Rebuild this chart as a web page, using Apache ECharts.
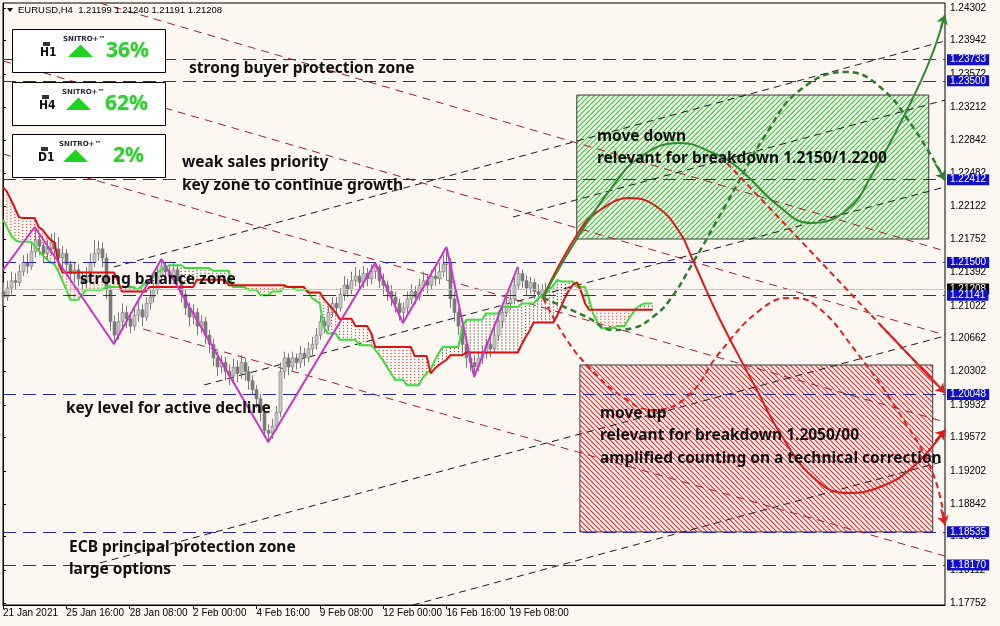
<!DOCTYPE html>
<html><head><meta charset="utf-8">
<script src="https://cdn.jsdelivr.net/npm/echarts@6/dist/echarts.min.js"></script>
<style>html,body{margin:0;padding:0;background:#fdf7f2}#c{width:1000px;height:626px}</style>
</head><body><div id="c"></div>
<script>
// ---------------- data ----------------
const xTickIdx = [0,16,32,48,64,80,96,112,128];
const xTickLabels = ['21 Jan 2021','25 Jan 16:00','28 Jan 08:00','2 Feb 00:00','4 Feb 16:00','9 Feb 08:00','12 Feb 00:00','16 Feb 16:00','19 Feb 08:00'];
const yTicks = [1.24302,1.23942,1.23572,1.23212,1.22842,1.22482,1.22122,1.21752,1.21392,1.21022,1.20662,1.20302,1.19932,1.19572,1.19202,1.18842,1.18482,1.18112,1.17752];
const levels = [1.23733,1.23500,1.22412,1.21500,1.21141,1.20048,1.18535,1.18170];
const lastPrice = 1.21208;
const header = 'EURUSD,H4  1.21199 1.21240 1.21191 1.21208';
// candles: [open, close, low, high]
const candles = [
[1.2118,1.2112,1.2102,1.2128],[1.2112,1.2122,1.2108,1.2130],[1.2122,1.2130,1.2115,1.2140],[1.2130,1.2128,1.2120,1.2138],
[1.2128,1.2140,1.2124,1.2148],[1.2140,1.2150,1.2135,1.2158],[1.2150,1.2146,1.2138,1.2160],[1.2146,1.2162,1.2142,1.2172],
[1.2162,1.2175,1.2156,1.2189],[1.2175,1.2168,1.2158,1.2180],[1.2168,1.2160,1.2150,1.2172],[1.2160,1.2165,1.2152,1.2175],
[1.2165,1.2172,1.2158,1.2182],[1.2172,1.2165,1.2150,1.2183],[1.2165,1.2155,1.2146,1.2178],[1.2155,1.2160,1.2145,1.2168],
[1.2160,1.2148,1.2140,1.2165],[1.2148,1.2138,1.2130,1.2152],[1.2138,1.2142,1.2128,1.2150],[1.2142,1.2132,1.2124,1.2148],
[1.2132,1.2128,1.2120,1.2140],[1.2128,1.2135,1.2122,1.2145],[1.2135,1.2150,1.2130,1.2160],[1.2150,1.2160,1.2145,1.2175],
[1.2160,1.2165,1.2152,1.2174],[1.2165,1.2155,1.2145,1.2172],[1.2155,1.2120,1.2110,1.2160],[1.2120,1.2085,1.2075,1.2125],
[1.2085,1.2070,1.2060,1.2092],[1.2070,1.2085,1.2065,1.2095],[1.2085,1.2095,1.2078,1.2105],[1.2095,1.2088,1.2078,1.2102],
[1.2088,1.2080,1.2072,1.2095],[1.2080,1.2092,1.2075,1.2100],[1.2092,1.2098,1.2085,1.2108],[1.2098,1.2090,1.2080,1.2104],
[1.2090,1.2105,1.2086,1.2112],[1.2105,1.2112,1.2098,1.2120],[1.2112,1.2120,1.2106,1.2128],[1.2120,1.2135,1.2115,1.2145],
[1.2135,1.2146,1.2128,1.2154],[1.2146,1.2140,1.2132,1.2150],[1.2140,1.2135,1.2126,1.2146],[1.2135,1.2142,1.2128,1.2150],
[1.2142,1.2130,1.2122,1.2146],[1.2130,1.2115,1.2106,1.2135],[1.2115,1.2100,1.2092,1.2120],[1.2100,1.2090,1.2080,1.2106],
[1.2090,1.2095,1.2082,1.2104],[1.2095,1.2080,1.2070,1.2100],[1.2080,1.2085,1.2072,1.2092],[1.2085,1.2070,1.2060,1.2090],
[1.2070,1.2060,1.2050,1.2076],[1.2060,1.2045,1.2036,1.2066],[1.2045,1.2035,1.2025,1.2052],[1.2035,1.2040,1.2028,1.2048],
[1.2040,1.2030,1.2020,1.2046],[1.2030,1.2025,1.2015,1.2038],[1.2025,1.2035,1.2018,1.2044],[1.2035,1.2028,1.2018,1.2042],
[1.2028,1.2040,1.2022,1.2048],[1.2040,1.2030,1.2020,1.2045],[1.2030,1.2020,1.2010,1.2036],[1.2020,1.2010,1.2005,1.2026],
[1.2010,1.2000,1.1990,1.2015],[1.2000,1.1985,1.1975,1.2005],[1.1985,1.1965,1.1958,1.1990],[1.1965,1.1962,1.1952,1.1972],
[1.1962,1.1970,1.1956,1.1978],[1.1970,1.1985,1.1965,1.1992],[1.1985,1.2030,1.1980,1.2040],[1.2030,1.2045,1.2022,1.2052],
[1.2045,1.2035,1.2026,1.2050],[1.2035,1.2045,1.2030,1.2052],[1.2045,1.2040,1.2032,1.2050],[1.2040,1.2050,1.2034,1.2058],
[1.2050,1.2045,1.2036,1.2056],[1.2045,1.2055,1.2040,1.2062],[1.2055,1.2060,1.2048,1.2068],[1.2060,1.2070,1.2054,1.2078],
[1.2070,1.2085,1.2065,1.2092],[1.2085,1.2080,1.2072,1.2090],[1.2080,1.2095,1.2075,1.2102],[1.2095,1.2105,1.2090,1.2112],
[1.2105,1.2100,1.2092,1.2112],[1.2100,1.2115,1.2096,1.2122],[1.2115,1.2125,1.2108,1.2135],[1.2125,1.2120,1.2112,1.2132],
[1.2120,1.2130,1.2115,1.2140],[1.2130,1.2135,1.2124,1.2145],[1.2135,1.2128,1.2120,1.2142],[1.2128,1.2138,1.2122,1.2146],
[1.2138,1.2132,1.2124,1.2144],[1.2132,1.2140,1.2126,1.2148],[1.2140,1.2145,1.2132,1.2150],[1.2145,1.2130,1.2122,1.2148],
[1.2130,1.2125,1.2115,1.2138],[1.2125,1.2118,1.2108,1.2130],[1.2118,1.2112,1.2102,1.2125],[1.2112,1.2105,1.2095,1.2118],
[1.2105,1.2095,1.2086,1.2110],[1.2095,1.2100,1.2083,1.2106],[1.2100,1.2110,1.2094,1.2118],[1.2110,1.2118,1.2104,1.2126],
[1.2118,1.2112,1.2104,1.2124],[1.2112,1.2125,1.2108,1.2132],[1.2125,1.2130,1.2118,1.2140],[1.2130,1.2125,1.2116,1.2136],
[1.2125,1.2135,1.2120,1.2142],[1.2135,1.2132,1.2124,1.2144],[1.2132,1.2140,1.2126,1.2150],[1.2140,1.2148,1.2134,1.2158],
[1.2148,1.2150,1.2130,1.2167],[1.2150,1.2110,1.2100,1.2155],[1.2110,1.2095,1.2085,1.2118],[1.2095,1.2080,1.2070,1.2100],
[1.2080,1.2060,1.2050,1.2085],[1.2060,1.2045,1.2034,1.2066],[1.2045,1.2040,1.2030,1.2052],[1.2040,1.2035,1.2024,1.2048],
[1.2035,1.2045,1.2030,1.2052],[1.2045,1.2050,1.2038,1.2058],[1.2050,1.2060,1.2044,1.2066],[1.2060,1.2055,1.2046,1.2068],
[1.2055,1.2070,1.2050,1.2078],[1.2070,1.2085,1.2064,1.2092],[1.2085,1.2095,1.2078,1.2102],[1.2095,1.2105,1.2090,1.2114],
[1.2105,1.2110,1.2098,1.2120],[1.2110,1.2125,1.2104,1.2134],[1.2125,1.2138,1.2120,1.2145],[1.2138,1.2130,1.2122,1.2142],
[1.2130,1.2122,1.2114,1.2136],[1.2122,1.2128,1.2116,1.2134],[1.2128,1.2118,1.2110,1.2132],[1.2118,1.2115,1.2108,1.2126],
[1.2115,1.2120,1.2110,1.2126],[1.2120,1.2120,1.2112,1.2128],[1.21199,1.21208,1.21191,1.21240]
];
// Ichimoku cloud borders (shifted 26 bars ahead), one value per bar
const spanRed = [
1.2233,1.2228,1.2219,1.2210,1.2200,1.2199,1.2199,1.2199,1.2199,1.2189,1.2186,1.2180,1.2175,1.2172,1.2150,
1.2139,1.2139,1.2139,1.2139,1.2139,1.2139,1.2139,1.2139,1.2139,1.2139,1.2139,1.2139,1.2139,1.2139,
1.2130,1.2118,1.2118,1.2118,1.2118,1.2118,1.2118,1.2118,
1.2123,1.2123,1.2123,1.2123,1.2123,1.2123,1.2123,1.2123,1.2123,1.2123,1.2123,1.2123,
1.2131,1.2131,1.2131,1.2131,1.2131,1.2131,1.2131,1.2131,
1.2125,1.2125,1.2125,1.2125,1.2125,1.2125,1.2125,1.2125,1.2125,1.2125,1.2125,1.2125,1.2125,1.2125,1.2125,
1.2123,1.2123,1.2123,1.2123,1.2123,1.2117,1.2117,1.2117,1.2117,
1.2110,1.2105,1.2100,1.2095,1.2088,1.2088,1.2088,1.2088,1.2080,1.2080,1.2080,1.2080,1.2072,
1.2057,1.2057,1.2057,1.2057,1.2057,1.2057,1.2057,1.2057,1.2057,1.2057,
1.2047,1.2047,1.2047,1.2047,1.2028,1.2033,1.2037,1.2040,1.2043,1.2048,1.2048,1.2048,1.2048,
1.2051,1.2051,1.2051,1.2051,1.2051,1.2051,1.2051,1.2051,1.2051,1.2051,1.2051,1.2051,1.2051,1.2051,
1.2060,1.2068,1.2075,1.2084,1.2084,1.2084,1.2084,1.2084,1.2084,
1.2092,1.2102,1.2112,1.2120,1.2126,1.2128,1.2118,1.2105,
1.2098,1.2098,1.2098,1.2098,1.2098,1.2098,1.2098,1.2098,1.2098,1.2098,1.2098,1.2098,1.2098,1.2098,1.2098,1.2098,1.2098
];
const spanGreen = [
1.2197,1.2189,1.2180,1.2175,1.2173,1.2173,1.2173,1.2173,1.2168,1.2163,1.2158,1.2154,1.2150,1.2148,1.2140,1.2130,1.2120,
1.2109,1.2109,1.2109,1.2115,1.2120,1.2120,1.2120,1.2120,1.2120,
1.2123,1.2123,1.2123,1.2123,1.2123,1.2123,1.2123,1.2123,
1.2120,1.2124,1.2128,1.2131,1.2135,1.2139,1.2142,1.2145,1.2147,1.2147,1.2147,1.2147,
1.2144,1.2144,1.2144,1.2144,1.2144,1.2144,1.2144,1.2141,1.2141,1.2141,1.2141,1.2141,
1.2123,1.2123,1.2123,1.2123,1.2120,1.2120,1.2120,1.2114,1.2114,1.2114,1.2118,1.2118,1.2118,
1.2123,1.2123,1.2123,1.2120,1.2120,1.2120,1.2120,1.2111,1.2108,1.2105,1.2079,1.2072,1.2072,1.2072,
1.2065,1.2065,1.2065,1.2065,1.2065,1.2059,1.2059,1.2059,1.2059,1.2054,1.2048,1.2042,1.2035,1.2028,
1.2021,1.2021,1.2021,1.2015,1.2015,1.2015,1.2015,1.2023,1.2028,1.2032,1.2042,1.2050,
1.2057,1.2057,1.2057,1.2057,1.2057,1.2079,1.2087,1.2087,1.2087,1.2087,1.2087,
1.2094,1.2094,1.2094,1.2094,1.2101,1.2101,1.2101,1.2101,1.2101,1.2105,1.2105,1.2105,1.2105,
1.2110,1.2113,1.2116,1.2120,1.2125,1.2131,1.2129,1.2129,1.2129,1.2129,1.2123,1.2123,1.2123,
1.2110,1.2094,1.2086,1.2078,1.2078,1.2078,1.2078,1.2080,1.2080,1.2080,1.2088,1.2094,1.2100,1.2103,1.2105,1.2105,1.2105
];
// ZigZag vertices [bar, price]
const zigzag = [[0,1.21418],[8,1.21891],[28,1.20603],[40,1.21539],[67,1.19524],[94,1.21495],[101,1.20834],[112,1.21671],[119,1.20240],[130,1.21451]];
// descending (red) and ascending (black) channel lines [[bar,price],[bar,price]]
const redChannel = [
[[24.5,1.24357],[237.9,1.21627]],
[[0,1.23719],[237.9,1.20702]],
[[0,1.22695],[237.9,1.19745]],
[[35.4,1.20768],[237.9,1.18270]]
];
const blackChannel = [
[[28.0,1.21451],[237.9,1.23939]],
[[128.8,1.22001],[237.9,1.23289]],
[[50.8,1.20152],[237.9,1.22332]],
[[24.5,1.18193],[237.9,1.20691]],
[[103.5,1.17730],[237.9,1.19315]]
];
// scenario zones [bar1, price1, bar2, price2]
const greenZone = [144.9,1.23344,233.8,1.21759];
const redZone = [145.7,1.20372,234.8,1.18534];
// projected paths [bar, price]
const pathGreenSolid = [[136.4,1.21121],[144.9,1.21759],[153.3,1.22299],[160.9,1.22662],[171.0,1.22816],[179.3,1.22706],[185.4,1.22552],[196.2,1.22111],[203.8,1.21935],[213.1,1.22078],[219.7,1.22486],[228.3,1.23179],[234.1,1.23730],[237.9,1.24225]];
const pathRedSolid = [[136.4,1.21121],[145.7,1.21858],[150.8,1.22078],[158.3,1.22210],[165.2,1.22111],[171.0,1.21825],[174.2,1.21528],[181.1,1.20868],[190.4,1.20097],[196.2,1.19624],[204.5,1.19139],[213.1,1.18963],[221.5,1.19029],[229.8,1.19249],[237.9,1.19657]];
const pathGreenDash = [[136.4,1.21110],[147.5,1.20900],[154.0,1.20757],[159.1,1.20779],[164.1,1.20900],[168.4,1.21088],[174.2,1.21495],[182.8,1.22155],[192.9,1.22926],[201.3,1.23399],[213.1,1.23597],[221.5,1.23432],[229.8,1.22992],[237.9,1.22409]];
const pathRedDash = [[136.4,1.21110],[142.4,1.20647],[148.2,1.20339],[155.8,1.20042],[164.1,1.19877],[172.7,1.20020],[181.1,1.20515],[191.2,1.20978],[198.7,1.21110],[205.1,1.21033],[215.7,1.20504],[225.8,1.19877],[234.8,1.19183],[237.9,1.18611]];
const pathRedStraight = [[182.8,1.22596],[237.9,1.20064]];
const notes = [
 ['strong buyer protection zone',189,69],['weak sales priority',182,163],['key zone to continue growth',182,186],
 ['strong balance zone',80,280],['key level for active decline',66,409],['ECB principal protection zone',69,548],
 ['large options',69,570],['move down',597,137],['relevant for breakdown 1.2150/1.2200',597,159],
 ['move up',600,414],['relevant for breakdown 1.2050/00',600,436],['amplified counting on a technical correction',600,459]
];
const meters = [['H1','36%'],['H4','62%'],['D1','2%']];

// ---------------- helpers ----------------
function hatch(bg, fg, dir){
  const s=5, c=document.createElement('canvas'); c.width=s; c.height=s;
  const g=c.getContext('2d'); g.fillStyle=bg; g.fillRect(0,0,s,s);
  g.strokeStyle=fg; g.lineWidth=1.1; g.beginPath();
  if(dir>0){ for(let k=-1;k<=1;k++){ g.moveTo(k*s, s); g.lineTo(k*s+s, 0);} }
  else { for(let k=-1;k<=1;k++){ g.moveTo(k*s, 0); g.lineTo(k*s+s, s);} }
  g.stroke(); return c;
}
const greenPat = hatch('#eaf6e4','#4cb84c',1);
const redPat = hatch('#fbeeea','#e02a2a',-1);

const chart = echarts.init(document.getElementById('c'), null, {renderer:'canvas'});
const FONT = '"Noto Sans", "DejaVu Sans", sans-serif';

function zoneSeries(z, pat){
  return {type:'custom', z:1, silent:true, data:[z], encode:{x:[0,2],y:[1,3]},
    renderItem(params, api){
      const a=api.coord([api.value(0),api.value(1)]), b=api.coord([api.value(2),api.value(3)]);
      return {type:'rect', shape:{x:a[0],y:a[1],width:b[0]-a[0],height:b[1]-a[1]},
        style:{fill:{image:pat, repeat:'repeat'}, stroke:'#3a3a3a', lineWidth:1}};
    }};
}
function pathSeries(pts, color, width, dash){
  return {type:'line', data:pts, smooth:0.45, showSymbol:false, symbol:'none', z:6, silent:true,
    lineStyle:{color, width, type: dash || 'solid'}};
}
function arrowSeries(pts, color, width){
  const n=pts.length;
  return {type:'lines', coordinateSystem:'cartesian2d', z:7, silent:true, clip:false,
    symbol:['none','arrow'], symbolSize:9,
    data:[{coords:[pts[n-2].map((v,k)=>k===0? v+(pts[n-1][0]-v)*0.7 : v+(pts[n-1][1]-v)*0.7), pts[n-1]]}],
    lineStyle:{color, width, opacity:1}};
}

const graphics = [];
// header
graphics.push({type:'polygon', shape:{points:[[7,8],[13,8],[10,12]]}, style:{fill:'#000'}, z:100});
graphics.push({type:'text', x:18, y:10, z:100, style:{text:header, font:'9.5px "Liberation Sans"', fill:'#000', verticalAlign:'middle'}});
// meters
const boxTops=[29,82,134], triX=[68,66,63], snX=[63,62,59], pctX=[106,105,113], labX=[40,39,38];
meters.forEach((m,k)=>{
  const t=boxTops[k];
  graphics.push({type:'rect', z:100, shape:{x:12.5,y:t+0.5,width:153,height:43}, style:{fill:'#fff',stroke:'#000',lineWidth:1}});
  graphics.push({type:'rect', z:101, shape:{x:labX[k]+3,y:t+13,width:7,height:4}, style:{fill:'#333'}});
  graphics.push({type:'text', z:101, x:labX[k], y:t+23.5, style:{text:m[0], font:'bold 12px "DejaVu Sans Condensed","DejaVu Sans"', fill:'#111', verticalAlign:'middle'}});
  graphics.push({type:'text', z:101, x:snX[k], y:t+10.5, style:{text:'SNITRO+™', font:'bold 7px "DejaVu Sans"', fill:'#2a2a3a', verticalAlign:'middle'}});
  const bx=triX[k];
  graphics.push({type:'polygon', z:101, shape:{points:[[bx,t+28],[bx+25,t+28],[bx+12.5,t+15.5]]}, style:{fill:'#1ed41e'}});
  graphics.push({type:'text', z:101, x:pctX[k], y:t+22.5, style:{text:m[1], font:'bold 21px "Noto Sans"', fill:'#33cc33', verticalAlign:'middle', textShadowColor:'rgba(80,230,80,0.5)', textShadowBlur:2}});
});
notes.forEach(n=>{
  graphics.push({type:'text', z:100, x:n[1], y:n[2], style:{text:n[0], font:'bold 15.5px '+FONT, fill:'#111', verticalAlign:'middle'}});
});

const option = {
  backgroundColor:'#fdf7f2',
  animation:false,
  grid:{left:3, right:55, top:3, bottom:21, show:true, borderColor:'#000', borderWidth:1, backgroundColor:'transparent'},
  xAxis:{type:'value', min:0, max:237.9, splitLine:{show:false},
    axisLine:{show:true, lineStyle:{color:'#000'}},
    axisTick:{show:true, customValues:xTickIdx, length:4, lineStyle:{color:'#000'}},
    axisLabel:{customValues:xTickIdx, formatter:v=>xTickLabels[xTickIdx.indexOf(v)], align:'left', fontSize:10, color:'#000', fontFamily:'Liberation Sans', margin:3}},
  yAxis:{type:'value', position:'right', min:1.17730, max:1.24357, splitLine:{show:false},
    axisLine:{show:true, lineStyle:{color:'#000', width:1}},
    axisTick:{show:true, customValues:yTicks, length:3, lineStyle:{color:'#000'}},
    axisLabel:{customValues:yTicks, formatter:v=>v.toFixed(5), fontSize:10, color:'#000', fontFamily:'Liberation Sans', margin:5}},
  graphic:graphics,
  series:[
    zoneSeries(greenZone, greenPat),
    zoneSeries(redZone, redPat),
    {type:'custom', z:2, silent:true, data:spanRed.map((r,i)=>[i,r,spanGreen[i]]), encode:{x:0,y:[1,2]},
      renderItem(params, api){
        const i=api.value(0), a=api.value(1), b=api.value(2);
        const p1=api.coord([i,a]), p2=api.coord([i,b]);
        return {type:'line', shape:{x1:p1[0],y1:p1[1],x2:p2[0],y2:p2[1]}, style:{stroke: a>b?'#d01818':'#202820', lineWidth:1, lineDash:[1,2]}};
      }},
    {type:'lines', coordinateSystem:'cartesian2d', z:2, silent:true, data:redChannel.map(c=>({coords:c})),
      lineStyle:{color:'#a0202e', width:1, type:[8,6], opacity:1}},
    {type:'lines', coordinateSystem:'cartesian2d', z:2, silent:true, data:blackChannel.map(c=>({coords:c})),
      lineStyle:{color:'#1a1a1a', width:1, type:[7,5], opacity:1}},
    {type:'line', data:[], z:2, silent:true,
      markLine:{silent:true, symbol:'none', animation:false, precision:5,
        lineStyle:{color:'#c4c4c4', width:1, type:'solid'},
        label:{position:'end', distance:2, formatter:p=>Number(p.value).toFixed(5), backgroundColor:'#000', color:'#fff', fontSize:10, fontFamily:'Liberation Sans', padding:[1,3,0,3]},
        data:[{yAxis:lastPrice}]}},
    {type:'custom', z:3, silent:true, data:candles.map((d,i)=>[i,d[0],d[1],d[2],d[3]]), encode:{x:0,y:[1,2,3,4]},
      renderItem(params, api){
        const i=api.value(0), o=api.value(1), c=api.value(2), l=api.value(3), h=api.value(4);
        const pO=api.coord([i,o]), pC=api.coord([i,c]), pL=api.coord([i,l]), pH=api.coord([i,h]);
        const x=Math.round(pO[0])+0.5, top=Math.min(pO[1],pC[1]), bh=Math.max(1,Math.abs(pO[1]-pC[1]));
        return {type:'group', children:[
          {type:'line', shape:{x1:x,y1:pH[1],x2:x,y2:pL[1]}, style:{stroke:'#7a7a7a', lineWidth:1}},
          {type:'rect', shape:{x:x-1.5,y:top,width:3,height:bh}, style:{fill: c>=o?'#c8c8c8':'#7a7a7a', stroke:'#7a7a7a', lineWidth:0.6}}
        ]};
      }},
    {type:'line', data:[], z:4, silent:true,
      markLine:{silent:true, symbol:'none', animation:false, precision:5,
        lineStyle:{color:'#2626b0', width:1, type:[13,7]},
        label:{position:'end', distance:2, formatter:p=>Number(p.value).toFixed(5), backgroundColor:'#1010c8', color:'#fff', fontSize:10, fontFamily:'Liberation Sans', padding:[1,3,0,3]},
        data:levels.map(v=>({yAxis:v}))}},
    {type:'line', z:4, silent:true, showSymbol:false, symbol:'none', data:spanGreen.map((v,i)=>[i,v]), lineStyle:{color:'#3ade3a', width:2}},
    {type:'line', z:4, silent:true, showSymbol:false, symbol:'none', data:spanRed.map((v,i)=>[i,v]), lineStyle:{color:'#e01010', width:2}},
    {type:'line', z:5, silent:true, showSymbol:false, symbol:'none', data:zigzag, lineStyle:{color:'#cc33cc', width:2}},
    pathSeries(pathRedDash, '#e02020', 2, [6,4]),
    pathSeries(pathGreenDash, '#2e7d2e', 2.5, [6,4]),
    pathSeries(pathRedSolid, '#e01818', 2),
    pathSeries(pathGreenSolid, '#2e8b2e', 2),
    {type:'line', data:pathRedStraight, showSymbol:false, symbol:'none', z:6, silent:true, lineStyle:{color:'#e02020', width:2, type:[6,4]}},
    arrowSeries(pathRedDash, '#e02020', 2),
    arrowSeries(pathGreenDash, '#2e7d2e', 2),
    arrowSeries(pathRedSolid, '#e01818', 2),
    arrowSeries(pathGreenSolid, '#2e8b2e', 2),
    arrowSeries(pathRedStraight, '#e02020', 2)
  ]
};
chart.setOption(option);
</script></body></html>
